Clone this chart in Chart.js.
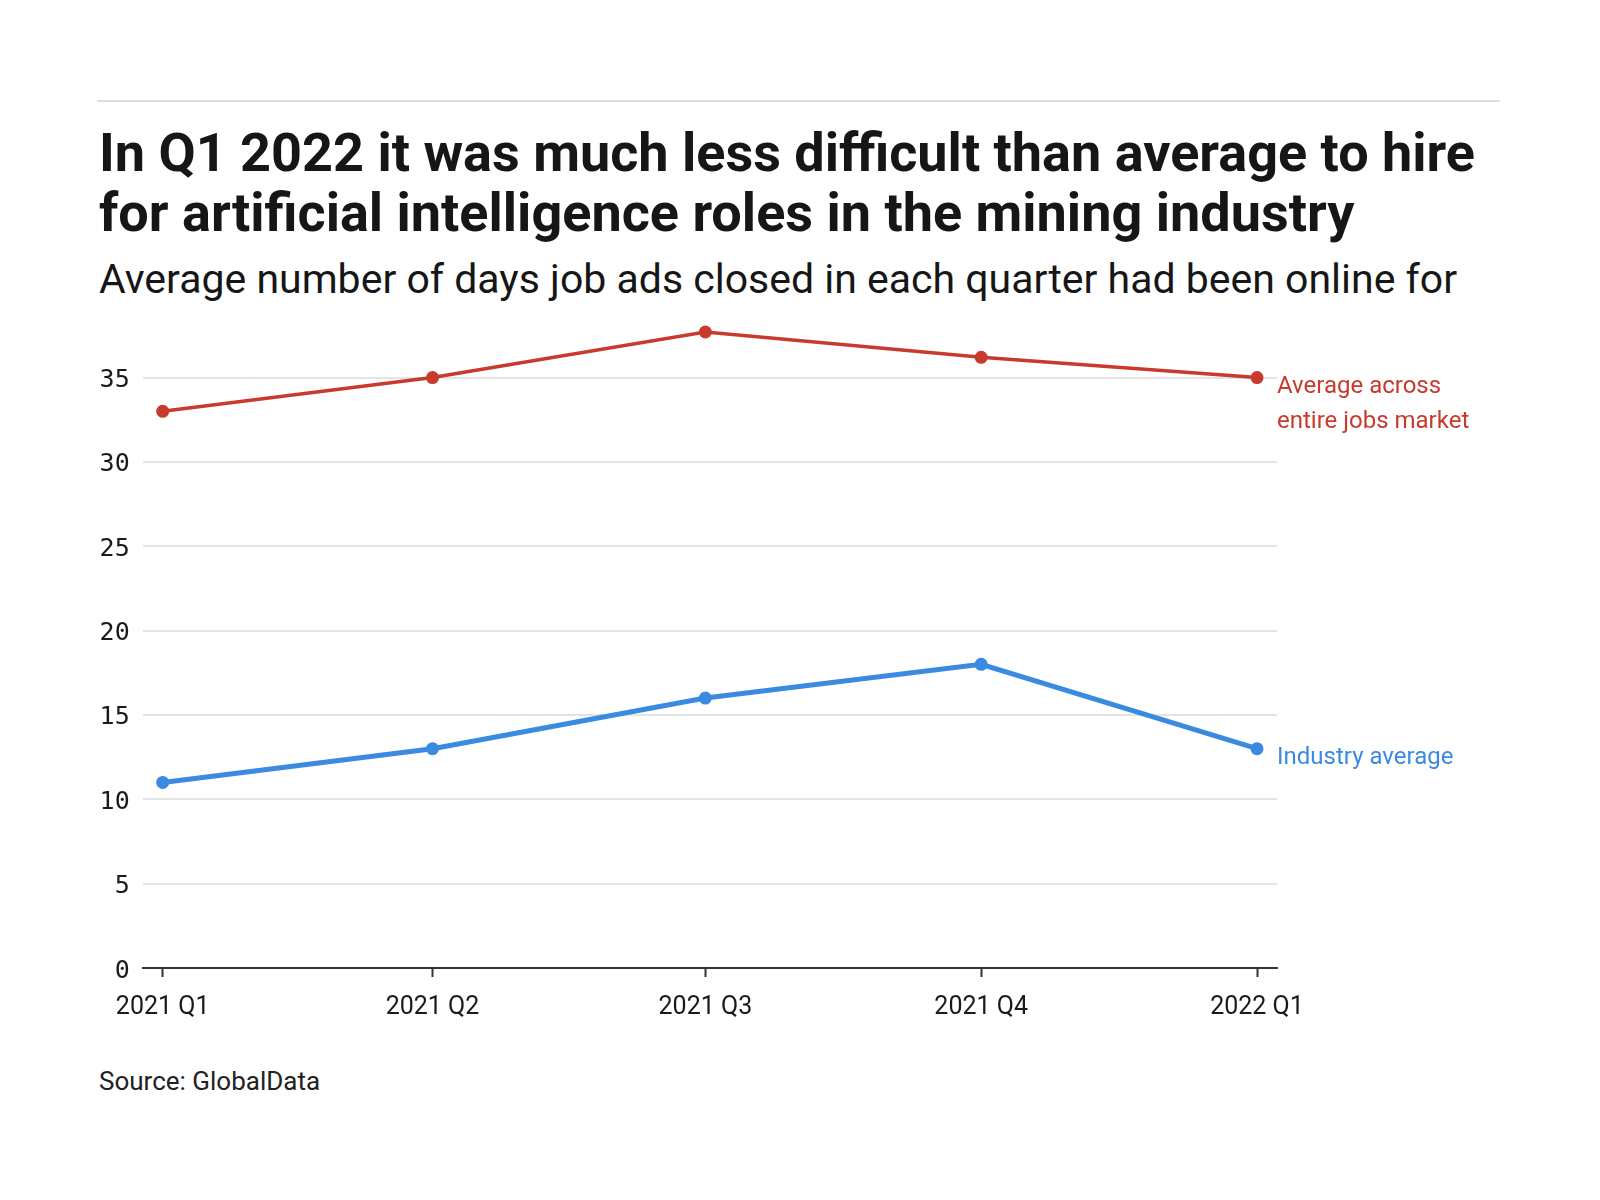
<!DOCTYPE html>
<html>
<head>
<meta charset="utf-8">
<script src="https://cdn.jsdelivr.net/npm/chart.js@4.4.0/dist/chart.umd.min.js"></script>
<style>
  html, body { margin: 0; padding: 0; background: #fff; }
  body { width: 1600px; height: 1200px; position: relative; overflow: hidden; font-family: Roboto, sans-serif; color: #222; }
  #rule { position: absolute; left: 97px; top: 100px; width: 1403px; height: 2px; background: #dedede; }
  #title { position: absolute; left: 99px; top: 123px; font-size: 54px; line-height: 60px; font-weight: 700; color: #161616; margin: 0; }
  #subtitle { position: absolute; left: 99px; top: 255px; font-size: 41px; line-height: 48px; font-weight: 400; color: #161616; margin: 0; }
  #source { position: absolute; left: 99px; top: 1066px; font-size: 26px; line-height: 30px; color: #222; }
  #chart { position: absolute; left: 0; top: 0; }
</style>
</head>
<body>
<div id="rule"></div>
<h1 id="title">In Q1 2022 it was much less difficult than average to hire<br>for artificial intelligence roles in the mining industry</h1>
<div id="subtitle">Average number of days job ads closed in each quarter had been online for</div>
<div id="source">Source: GlobalData</div>
<canvas id="chart" width="1600" height="1200"></canvas>
<script>
// quarters and their start day counted from 1 Jan 2021
const quarters = ['2021 Q1', '2021 Q2', '2021 Q3', '2021 Q4', '2022 Q1'];
const quarterDays = [0, 90, 181, 273, 365];

const marketAvg = [33, 35, 37.7, 36.2, 35];
const industryAvg = [11, 13, 16, 18, 13];

const yTicks = [0, 5, 10, 15, 20, 25, 30, 35];
const endLabels = [['Average across', 'entire jobs market'], ['Industry average']];

const red = '#c83a2e';
const blue = '#3a8ae2';

const toPoints = vals => vals.map((v, i) => ({x: quarterDays[i], y: v}));

// labels at the right end of each line
const endLabelPlugin = {
  id: 'endLabels',
  afterDatasetsDraw(chart) {
    const c = chart.ctx;
    c.save();
    c.font = '24px Roboto';
    c.textBaseline = 'alphabetic';
    c.textAlign = 'left';
    chart.data.datasets.forEach((ds, i) => {
      const meta = chart.getDatasetMeta(i);
      const last = meta.data[meta.data.length - 1];
      c.fillStyle = ds.borderColor;
      endLabels[i].forEach((line, j) => {
        c.fillText(line, last.x + 20, last.y + 15 + j * 35);
      });
    });
    c.restore();
  }
};

const xPad = 6.67; // days of space either side of the first/last quarter

new Chart(document.getElementById('chart'), {
  type: 'line',
  data: {
    datasets: [
      {
        label: 'Average across entire jobs market',
        data: toPoints(marketAvg),
        borderColor: red,
        backgroundColor: red,
        borderWidth: 3.5,
        pointRadius: 6.5,
        pointBorderWidth: 0,
        tension: 0,
        clip: false
      },
      {
        label: 'Industry average',
        data: toPoints(industryAvg),
        borderColor: blue,
        backgroundColor: blue,
        borderWidth: 5,
        pointRadius: 6.5,
        pointBorderWidth: 0,
        tension: 0,
        clip: false
      }
    ]
  },
  options: {
    responsive: false,
    animation: false,
    devicePixelRatio: 1,
    events: [],
    layout: { padding: { left: 0, top: 332, right: 323, bottom: 172 } },
    plugins: { legend: { display: false }, tooltip: { enabled: false } },
    scales: {
      x: {
        type: 'linear',
        min: quarterDays[0] - xPad,
        max: quarterDays[quarterDays.length - 1] + xPad,
        afterBuildTicks: s => { s.ticks = quarterDays.map(v => ({value: v})); },
        afterFit: s => { s.height = 60; },
        border: { display: true, color: '#333', width: 2 },
        grid: { display: true, drawOnChartArea: false, drawTicks: true, tickLength: 9, tickColor: '#333', tickWidth: 2 },
        ticks: {
          autoSkip: false,
          maxRotation: 0,
          padding: 16,
          color: '#1a1a1a',
          font: { family: 'Roboto', size: 25 },
          callback: v => quarters[quarterDays.indexOf(v)]
        }
      },
      y: {
        min: 0,
        max: Math.max(...marketAvg, ...industryAvg),
        afterBuildTicks: s => { s.ticks = yTicks.map(v => ({value: v})); },
        afterFit: s => { s.width = 142.7; },
        border: { display: false },
        grid: { color: '#e4e4e4', lineWidth: 2, drawTicks: false },
        ticks: {
          padding: 13,
          labelOffset: 3,
          color: '#1a1a1a',
          font: { family: 'DejaVu Sans Mono', size: 25 }
        }
      }
    }
  },
  plugins: [endLabelPlugin]
});
</script>
</body>
</html>
